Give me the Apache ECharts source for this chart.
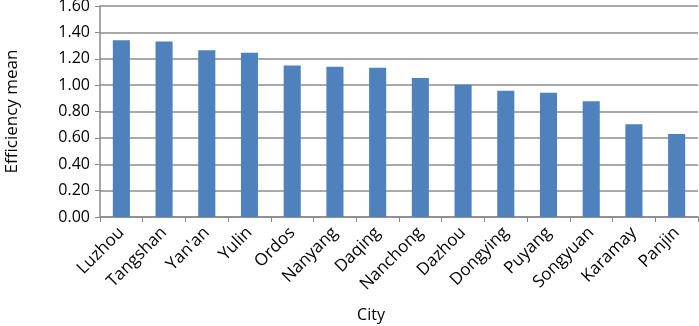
<!DOCTYPE html>
<html>
<head>
<meta charset="utf-8">
<script src="https://cdn.jsdelivr.net/npm/echarts@6/dist/echarts.min.js"></script>
<style>
  html, body { margin: 0; padding: 0; background: #fff; }
  #chart { width: 699px; height: 326px; }
</style>
</head>
<body>
<div id="chart"></div>
<script>
// city names along the x axis
var cities = ['Luzhou', 'Tangshan', "Yan'an", 'Yulin', 'Ordos', 'Nanyang', 'Daqing',
  'Nanchong', 'Dazhou', 'Dongying', 'Puyang', 'Songyuan', 'Karamay', 'Panjin'];
// efficiency mean
var effMean = [1.34, 1.33, 1.265, 1.245, 1.148, 1.14, 1.132,
  1.054, 1.003, 0.958, 0.943, 0.877, 0.703, 0.629];

var chart = echarts.init(document.getElementById('chart'));
var font = 'Open Sans';

var option = {
  animation: false,
  grid: { left: 100, right: 1, top: 6, bottom: 109, outerBoundsMode: 'none' },
  xAxis: {
    type: 'category',
    data: cities,
    name: 'City',
    nameLocation: 'middle',
    nameGap: 90,
    // Excel put the title a bit left of the plot centre
    nameTextStyle: { fontFamily: font, fontSize: 16, color: '#000', padding: [0, 56, 0, 0] },
    axisLine: { lineStyle: { color: '#888', width: 1.5 } },
    axisTick: { show: true, length: 5, lineStyle: { color: '#888' } },
    axisLabel: { rotate: 45, fontFamily: font, fontSize: 17, color: '#000', margin: 13, interval: 0 }
  },
  yAxis: {
    type: 'value',
    min: 0, max: 1.6, interval: 0.2,
    name: 'Efficiency mean',
    nameLocation: 'middle',
    nameGap: 79,
    nameTextStyle: { fontFamily: font, fontSize: 17, color: '#000' },
    axisLine: { show: true, lineStyle: { color: '#888', width: 1.5 } },
    axisTick: { show: true, length: 5, lineStyle: { color: '#888' } },
    axisLabel: {
      fontFamily: font, fontSize: 16, color: '#000', margin: 10,
      formatter: function (v) { return v.toFixed(2); }
    },
    splitLine: { lineStyle: { color: '#8c8c8c', width: 1.5 } }
  },
  series: [{
    type: 'bar',
    data: effMean,
    barWidth: '40%',
    itemStyle: { color: '#4f81bd' }
  }]
};

chart.setOption(option);
</script>
</body>
</html>
